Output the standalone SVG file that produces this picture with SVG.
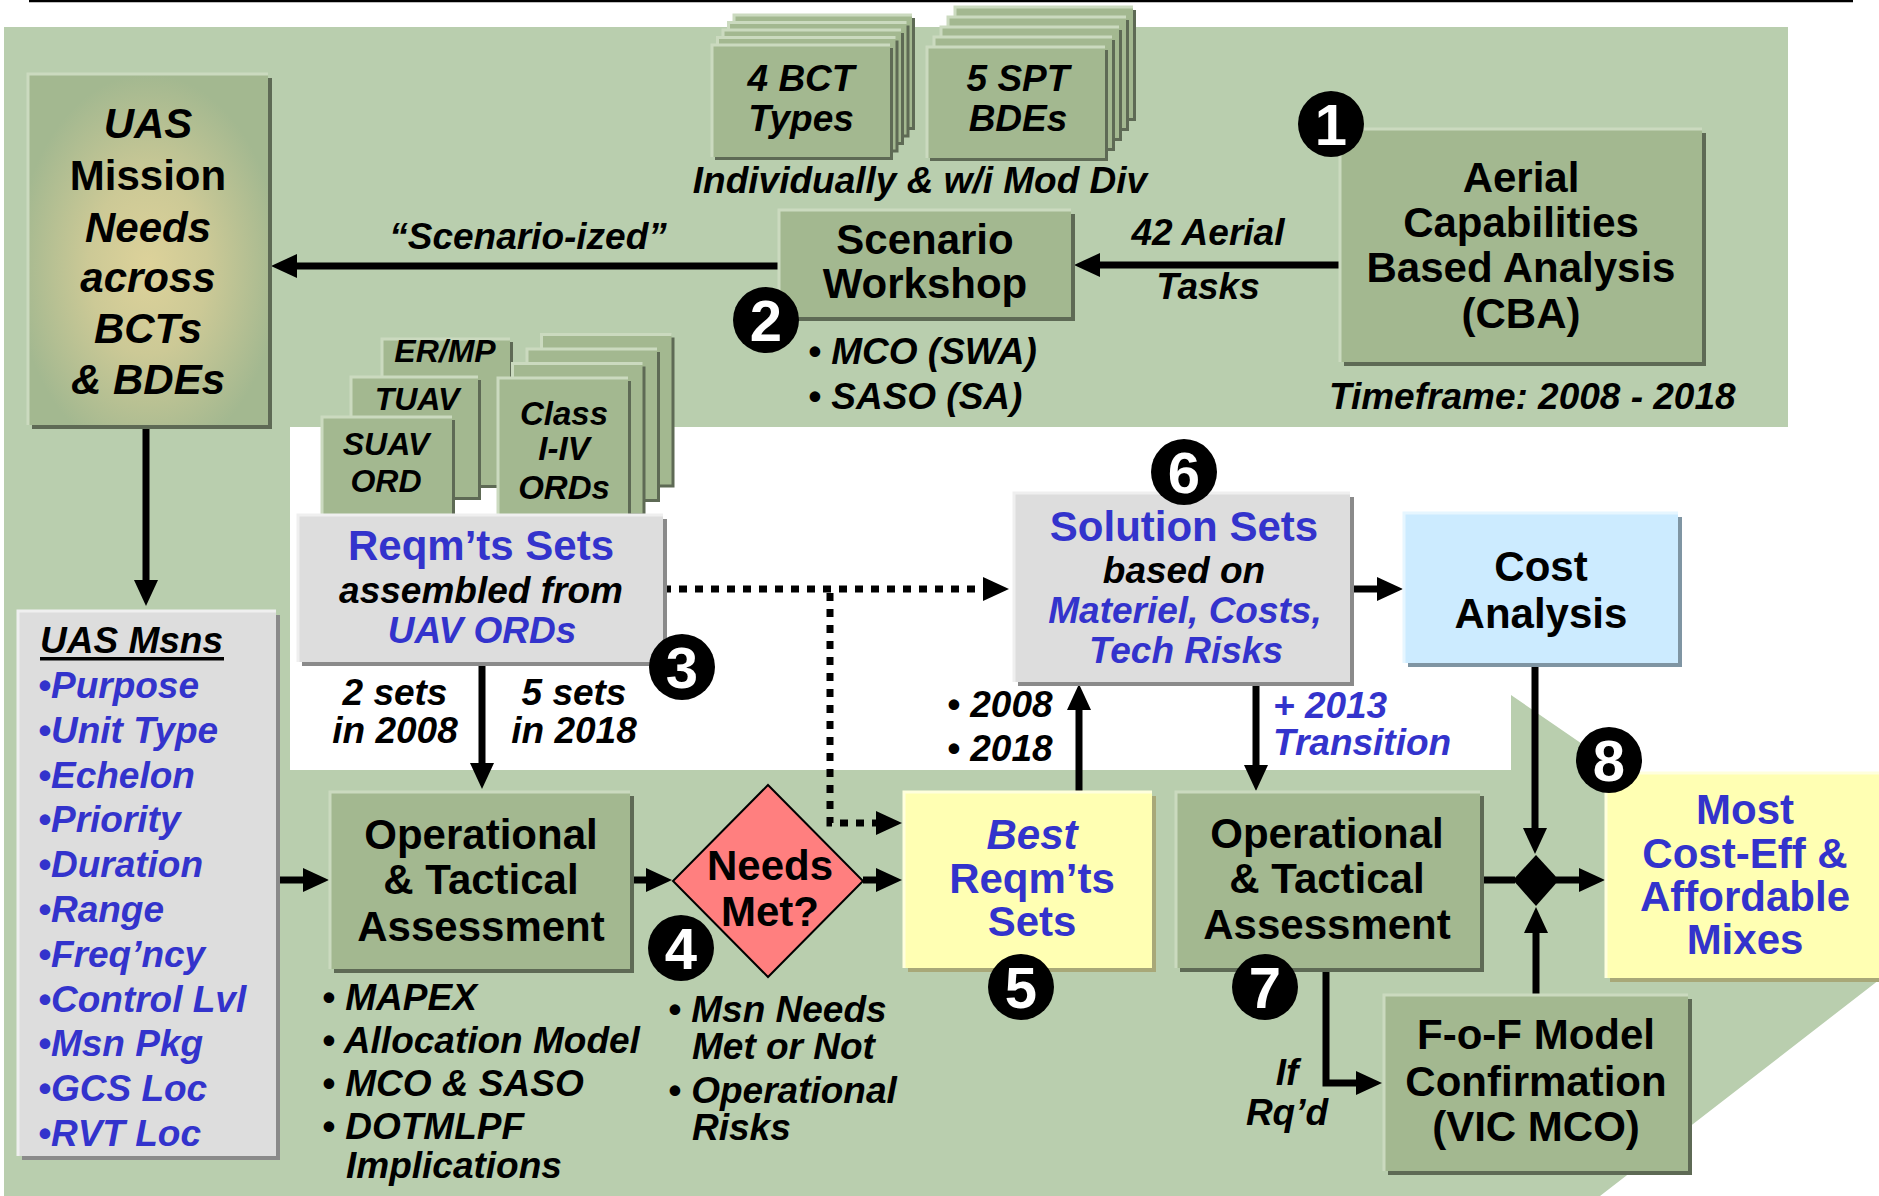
<svg xmlns="http://www.w3.org/2000/svg" width="1879" height="1196" viewBox="0 0 1879 1196">
  <defs>
    <style>
      text { font-family: "Liberation Sans", Arial, Helvetica, sans-serif; font-weight: bold; fill: #000; }
      .c { text-anchor: middle; }
      .i { font-style: italic; }
      .L { font-size: 42px; }
      .M { font-size: 37px; }
      .S { font-size: 33px; }
      .bl { fill: #3333CC; }
      .num { font-size: 58px; fill: #fff; text-anchor: middle; }
      .green { fill: #A3B890; }
      .gray { fill: #DDDDDD; }
      .yel { fill: #FFFFB3; }
      .sky { fill: #CCEBFF; }
      .shG { fill: #5E6A55; }
      .shY { fill: #A8A878; }
      .shB { fill: #7F95A3; }
      .shN { fill: #8A8A8A; }
      .hiG { fill: none; stroke: #CBDABF; stroke-width: 3; }
      .hiN { fill: none; stroke: #EFEFEF; stroke-width: 3; }
      .hiY { fill: none; stroke: #FFFFDD; stroke-width: 3; }
      .hiB { fill: none; stroke: #E6F6FF; stroke-width: 3; }
      .conn { fill: none; stroke: #000; stroke-width: 7; }
      .arr { marker-end: url(#ah); }
      .dot { stroke-dasharray: 8 8; }
    </style>
    <marker id="ah" viewBox="0 0 26 24" markerWidth="26" markerHeight="24" refX="1" refY="12" orient="auto" markerUnits="userSpaceOnUse">
      <path d="M0,0 L26,12 L0,24 Z" fill="#000"/>
    </marker>
    <radialGradient id="glow" cx="0.5" cy="0.55" r="0.55">
      <stop offset="0" stop-color="#DDD29A"/>
      <stop offset="0.45" stop-color="#CCC996"/>
      <stop offset="1" stop-color="#A3B890"/>
    </radialGradient>
  </defs>

  <!-- page -->
  <rect x="0" y="0" width="1879" height="1196" fill="#FFFFFF"/>
  <line x1="29" y1="1" x2="1853" y2="1" stroke="#000" stroke-width="2.5"/>
  <path id="backdrop" d="M4,27 H1788 V427 H290 V770 H1511 V695 L1879,948 V980 L1600,1196 H4 Z" fill="#B9CEAE"/>

  <!-- connectors -->
  <g id="connectors">
    <path class="conn arr" d="M1340,265 H1099"/>
    <path class="conn arr" d="M779,266 H296"/>
    <path class="conn arr" d="M146,425 V581"/>
    <path class="conn arr" d="M276,880 H304"/>
    <path class="conn arr" d="M482,662 V764"/>
    <path class="conn arr" d="M633,880 H647"/>
    <path class="conn arr" d="M863,880 H877"/>
    <path class="conn arr" d="M1079,792 V709"/>
    <path class="conn arr" d="M1350,589 H1378"/>
    <path class="conn arr" d="M1256,682 V766"/>
    <path class="conn arr" d="M1535,663 V829"/>
    <path class="conn" d="M1480,880 H1515"/>
    <path class="conn arr" d="M1556,880 H1580"/>
    <path class="conn arr" d="M1536,995 V932"/>
    <path class="conn arr" d="M1326,968 V1083 H1357"/>
    <path class="conn dot arr" d="M663,589 H984"/>
    <path class="conn dot arr" d="M830,593 V823 H877"/>
    <polygon points="1536,855 1559,880 1536,906 1513,880" fill="#000"/>
    <text class="M i c" x="528" y="249">“Scenario-ized”</text>
    <text class="M i c" x="1208" y="245">42 Aerial</text>
    <text class="M i c" x="1208" y="299">Tasks</text>
    <text class="M i c" x="395" y="705">2 sets</text>
    <text class="M i c" x="395" y="743">in 2008</text>
    <text class="M i c" x="574" y="705">5 sets</text>
    <text class="M i c" x="574" y="743">in 2018</text>
    <text class="M i" x="947" y="717">• 2008</text>
    <text class="M i" x="947" y="761">• 2018</text>
    <text class="M i bl" x="1273" y="718">+ 2013</text>
    <text class="M i bl" x="1273" y="755">Transition</text>
    <text class="M i c" x="1287" y="1085">If</text>
    <text class="M i c" x="1287" y="1125">Rq’d</text>
  </g>

  <!-- UAS mission needs -->
  <g id="uas-needs">
    <rect class="shG" x="32" y="78" width="240" height="351"/>
    <rect x="28" y="74" width="240" height="351" fill="url(#glow)"/>
    <path class="hiG" d="M28,425 V74 H268"/>
    <text class="L i c" x="148" y="138">UAS</text>
    <text class="L c" x="148" y="190">Mission</text>
    <text class="L i c" x="148" y="242">Needs</text>
    <text class="L i c" x="148" y="292">across</text>
    <text class="L i c" x="148" y="343">BCTs</text>
    <text class="L i c" x="148" y="394">&amp; BDEs</text>
  </g>

  <!-- 4 BCT types stack -->
  <g id="bct-types">
    <rect class="shG" x="737" y="18" width="178" height="112"/><rect class="green" x="734" y="15" width="178" height="112"/><path class="hiG" d="M734,127 V15 H912"/>
    <rect class="shG" x="731.5" y="25.5" width="178" height="112"/><rect class="green" x="728.5" y="22.5" width="178" height="112"/><path class="hiG" d="M728.5,134.5 V22.5 H906.5"/>
    <rect class="shG" x="726" y="33" width="178" height="112"/><rect class="green" x="723" y="30" width="178" height="112"/><path class="hiG" d="M723,142 V30 H901"/>
    <rect class="shG" x="720.5" y="40.5" width="178" height="112"/><rect class="green" x="717.5" y="37.5" width="178" height="112"/><path class="hiG" d="M717.5,149.5 V37.5 H895.5"/>
    <rect class="shG" x="715" y="48" width="178" height="112"/><rect class="green" x="712" y="45" width="178" height="112"/><path class="hiG" d="M712,157 V45 H890"/>
    <text class="M i c" x="801" y="91">4 BCT</text>
    <text class="M i c" x="801" y="131">Types</text>
  </g>

  <!-- 5 SPT BDEs stack -->
  <g id="spt-bdes">
    <rect class="shG" x="958" y="10" width="178" height="111"/><rect class="green" x="955" y="7" width="178" height="111"/><path class="hiG" d="M955,118 V7 H1133"/>
    <rect class="shG" x="951" y="20" width="178" height="111"/><rect class="green" x="948" y="17" width="178" height="111"/><path class="hiG" d="M948,128 V17 H1126"/>
    <rect class="shG" x="944" y="30" width="178" height="111"/><rect class="green" x="941" y="27" width="178" height="111"/><path class="hiG" d="M941,138 V27 H1119"/>
    <rect class="shG" x="937" y="40" width="178" height="111"/><rect class="green" x="934" y="37" width="178" height="111"/><path class="hiG" d="M934,148 V37 H1112"/>
    <rect class="shG" x="930" y="50" width="178" height="111"/><rect class="green" x="927" y="47" width="178" height="111"/><path class="hiG" d="M927,158 V47 H1105"/>
    <text class="M i c" x="1018" y="91">5 SPT</text>
    <text class="M i c" x="1018" y="131">BDEs</text>
  </g>
  <text id="mod-div" class="M i c" x="920" y="193">Individually &amp; w/i Mod Div</text>

  <!-- scenario workshop -->
  <g id="scenario-workshop">
    <rect class="shG" x="783" y="214" width="292" height="107"/>
    <rect class="green" x="779" y="210" width="292" height="107"/>
    <path class="hiG" d="M779,317 V210 H1071"/>
    <text class="L c" x="925" y="254">Scenario</text>
    <text class="L c" x="925" y="298">Workshop</text>
    <text class="M i" x="808" y="364">• MCO (SWA)</text>
    <text class="M i" x="808" y="409">• SASO (SA)</text>
  </g>

  <!-- capabilities based analysis -->
  <g id="cba">
    <rect class="shG" x="1344" y="133" width="362" height="233"/>
    <rect class="green" x="1340" y="129" width="362" height="233"/>
    <path class="hiG" d="M1340,362 V129 H1702"/>
    <text class="L c" x="1521" y="192">Aerial</text>
    <text class="L c" x="1521" y="237">Capabilities</text>
    <text class="L c" x="1521" y="282">Based Analysis</text>
    <text class="L c" x="1521" y="328">(CBA)</text>
    <text class="M i" x="1329" y="409">Timeframe: 2008 - 2018</text>
  </g>

  <!-- ORD cards -->
  <g id="ord-cards">
    <rect class="shG" x="385" y="342" width="128" height="146"/><rect class="green" x="382" y="339" width="128" height="146"/><path class="hiG" d="M382,485 V339 H510"/>
    <text class="S i c" x="445" y="362" style="font-size:32px">ER/MP</text>
    <rect class="shG" x="354" y="380" width="127" height="120"/><rect class="green" x="351" y="377" width="127" height="120"/><path class="hiG" d="M351,497 V377 H478"/>
    <text class="S i c" x="417" y="410" style="font-size:32px">TUAV</text>
    <rect class="shG" x="325" y="420" width="130" height="110"/><rect class="green" x="322" y="417" width="130" height="110"/><path class="hiG" d="M322,527 V417 H452"/>
    <text class="S i c" x="386" y="455" style="font-size:32px">SUAV</text>
    <text class="S i c" x="386" y="492" style="font-size:32px">ORD</text>
  </g>
  <g id="class-ords">
    <rect class="shG" x="544.5" y="337.5" width="130" height="150"/><rect class="green" x="541.5" y="334.5" width="130" height="150"/><path class="hiG" d="M541.5,484.5 V334.5 H671.5"/>
    <rect class="shG" x="530" y="352" width="130" height="150"/><rect class="green" x="527" y="349" width="130" height="150"/><path class="hiG" d="M527,499 V349 H657"/>
    <rect class="shG" x="515.5" y="366.5" width="130" height="150"/><rect class="green" x="512.5" y="363.5" width="130" height="150"/><path class="hiG" d="M512.5,513.5 V363.5 H642.5"/>
    <rect class="shG" x="501" y="381" width="130" height="150"/><rect class="green" x="498" y="378" width="130" height="150"/><path class="hiG" d="M498,528 V378 H628"/>
    <text class="S i c" x="564" y="425">Class</text>
    <text class="S i c" x="564" y="460">I-IV</text>
    <text class="S i c" x="564" y="499">ORDs</text>
  </g>

  <!-- requirements sets -->
  <g id="reqmts-sets">
    <rect class="shN" x="302" y="519" width="365" height="147"/>
    <rect class="gray" x="298" y="515" width="365" height="147"/>
    <path class="hiN" d="M298,662 V515 H663"/>
    <text class="L c bl" x="481" y="560">Reqm’ts Sets</text>
    <text class="M i c" x="481" y="603">assembled from</text>
    <text class="M i c bl" x="482" y="643">UAV ORDs</text>
  </g>

  <!-- mission list -->
  <g id="uas-msns">
    <rect class="shN" x="22" y="615" width="258" height="545"/>
    <rect class="gray" x="18" y="611" width="258" height="545"/>
    <path class="hiN" d="M18,1156 V611 H276"/>
    <text class="M i" x="40" y="653">UAS Msns</text>
    <rect x="40" y="657" width="184" height="3.5" fill="#000"/>
    <text class="M i bl" x="38" y="698">•Purpose</text>
    <text class="M i bl" x="38" y="743">•Unit Type</text>
    <text class="M i bl" x="38" y="788">•Echelon</text>
    <text class="M i bl" x="38" y="832">•Priority</text>
    <text class="M i bl" x="38" y="877">•Duration</text>
    <text class="M i bl" x="38" y="922">•Range</text>
    <text class="M i bl" x="38" y="967">•Freq’ncy</text>
    <text class="M i bl" x="38" y="1012">•Control Lvl</text>
    <text class="M i bl" x="38" y="1056">•Msn Pkg</text>
    <text class="M i bl" x="38" y="1101">•GCS Loc</text>
    <text class="M i bl" x="38" y="1146">•RVT Loc</text>
  </g>

  <!-- operational & tactical assessment (left) -->
  <g id="ota-left">
    <rect class="shG" x="334" y="796" width="300" height="177"/>
    <rect class="green" x="330" y="792" width="300" height="177"/>
    <path class="hiG" d="M330,969 V792 H630"/>
    <text class="L c" x="481" y="849">Operational</text>
    <text class="L c" x="481" y="894">&amp; Tactical</text>
    <text class="L c" x="481" y="941">Assessment</text>
    <text class="M i" x="322" y="1010">• MAPEX</text>
    <text class="M i" x="322" y="1053">• Allocation Model</text>
    <text class="M i" x="322" y="1096">• MCO &amp; SASO</text>
    <text class="M i" x="322" y="1139">• DOTMLPF</text>
    <text class="M i" x="346" y="1178">Implications</text>
  </g>

  <!-- needs met decision -->
  <g id="needs-met">
    <polygon points="768,785 863,881 768,977 673,881" fill="#FF7F7F" stroke="#000" stroke-width="2"/>
    <text class="L c" x="770" y="880">Needs</text>
    <text class="L c" x="770" y="926">Met?</text>
    <text class="M i" x="668" y="1022">• Msn Needs</text>
    <text class="M i" x="692" y="1059">Met or Not</text>
    <text class="M i" x="668" y="1103">• Operational</text>
    <text class="M i" x="692" y="1140">Risks</text>
  </g>

  <!-- best requirements sets -->
  <g id="best-reqmts">
    <rect class="shY" x="908" y="796" width="248" height="176"/>
    <rect class="yel" x="904" y="792" width="248" height="176"/>
    <path class="hiY" d="M904,968 V792 H1152"/>
    <text class="L i c bl" x="1032" y="849">Best</text>
    <text class="L c bl" x="1032" y="893">Reqm’ts</text>
    <text class="L c bl" x="1032" y="936">Sets</text>
  </g>

  <!-- solution sets -->
  <g id="solution-sets">
    <rect class="shN" x="1018" y="497" width="336" height="189"/>
    <rect class="gray" x="1014" y="493" width="336" height="189"/>
    <path class="hiN" d="M1014,682 V493 H1350"/>
    <text class="L c bl" x="1184" y="541">Solution Sets</text>
    <text class="M i c" x="1184" y="583">based on</text>
    <text class="M i c bl" x="1185" y="623">Materiel, Costs,</text>
    <text class="M i c bl" x="1186" y="663">Tech Risks</text>
  </g>

  <!-- cost analysis -->
  <g id="cost-analysis">
    <rect class="shB" x="1408" y="517" width="274" height="150"/>
    <rect class="sky" x="1404" y="513" width="274" height="150"/>
    <path class="hiB" d="M1404,663 V513 H1678"/>
    <text class="L c" x="1541" y="581">Cost</text>
    <text class="L c" x="1541" y="628">Analysis</text>
  </g>

  <!-- operational & tactical assessment (right) -->
  <g id="ota-right">
    <rect class="shG" x="1180" y="796" width="304" height="176"/>
    <rect class="green" x="1176" y="792" width="304" height="176"/>
    <path class="hiG" d="M1176,968 V792 H1480"/>
    <text class="L c" x="1327" y="848">Operational</text>
    <text class="L c" x="1327" y="893">&amp; Tactical</text>
    <text class="L c" x="1327" y="939">Assessment</text>
  </g>

  <!-- force-on-force confirmation -->
  <g id="fof-model">
    <rect class="shG" x="1388" y="999" width="304" height="176"/>
    <rect class="green" x="1384" y="995" width="304" height="176"/>
    <path class="hiG" d="M1384,1171 V995 H1688"/>
    <text class="L c" x="1536" y="1049">F-o-F Model</text>
    <text class="L c" x="1536" y="1096">Confirmation</text>
    <text class="L c" x="1536" y="1141">(VIC MCO)</text>
  </g>

  <!-- most cost-effective mixes -->
  <g id="most-cost-eff">
    <rect class="shY" x="1610" y="777" width="280" height="205"/>
    <rect class="yel" x="1606" y="773" width="280" height="205"/>
    <path class="hiY" d="M1606,978 V773 H1886"/>
    <text class="L c bl" x="1745" y="824">Most</text>
    <text class="L c bl" x="1745" y="868">Cost-Eff &amp;</text>
    <text class="L c bl" x="1745" y="911">Affordable</text>
    <text class="L c bl" x="1745" y="954">Mixes</text>
  </g>

  <!-- step numbers -->
  <g id="step-1"><circle cx="1331" cy="124" r="33" fill="#000"/><text class="num" x="1331" y="145">1</text></g>
  <g id="step-2"><circle cx="766" cy="320" r="33" fill="#000"/><text class="num" x="766" y="341">2</text></g>
  <g id="step-3"><circle cx="682" cy="667" r="33" fill="#000"/><text class="num" x="682" y="688">3</text></g>
  <g id="step-4"><circle cx="681" cy="948" r="33" fill="#000"/><text class="num" x="681" y="969">4</text></g>
  <g id="step-5"><circle cx="1021" cy="987" r="33" fill="#000"/><text class="num" x="1021" y="1008">5</text></g>
  <g id="step-6"><circle cx="1184" cy="472" r="33" fill="#000"/><text class="num" x="1184" y="493">6</text></g>
  <g id="step-7"><circle cx="1265" cy="987" r="33" fill="#000"/><text class="num" x="1265" y="1008">7</text></g>
  <g id="step-8"><circle cx="1609" cy="760" r="33" fill="#000"/><text class="num" x="1609" y="781">8</text></g>
</svg>
